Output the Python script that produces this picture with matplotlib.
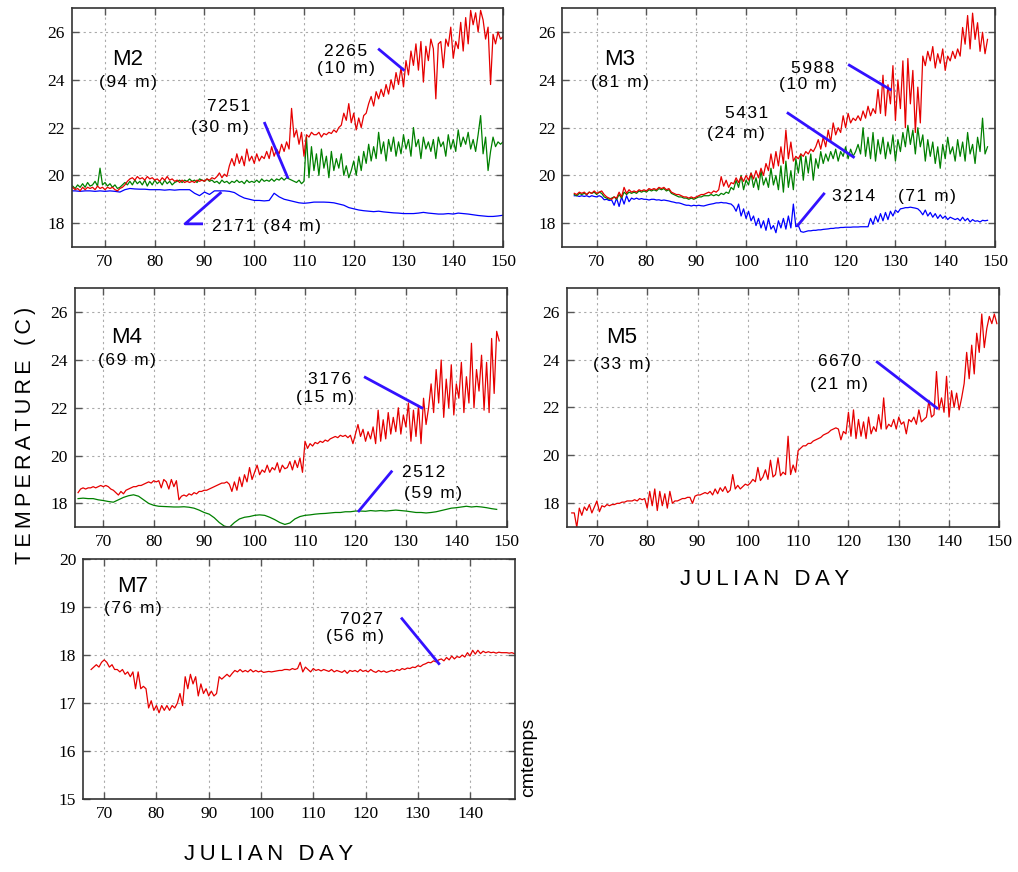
import numpy as np
import matplotlib.pyplot as plt
from matplotlib import font_manager

# mooring temperature records, half-day samples unless noted
m2_day = np.arange(63.5, 150.01, 0.5)
m2_2265 = [19.5, 19.4, 19.45, 19.35, 19.5, 19.4, 19.5, 19.45,
           19.5, 19.4, 19.55, 19.45, 19.5, 19.4, 19.5, 19.45, 19.5, 19.4,
           19.35, 19.45, 19.5, 19.6, 19.75, 19.85, 19.9, 19.8, 19.95, 19.85,
           19.9, 19.8, 19.95, 19.85, 19.9, 19.8, 19.85, 19.75, 19.9, 19.8,
           19.95, 19.8, 19.85, 19.75, 19.8, 19.7, 19.8, 19.7, 19.75, 19.7,
           19.75, 19.7, 19.8, 19.75, 19.8, 19.75, 19.85, 19.8, 19.9, 19.85,
           19.95, 20.1, 19.9, 20.05, 19.95, 20.4, 20.7, 20.4, 20.9, 20.5,
           20.8, 20.4, 21.1, 20.6, 20.8, 20.5, 20.9, 20.6, 20.8, 20.7,
           21.0, 20.7, 21.2, 20.8, 21.1, 20.9, 21.3, 21.0, 21.4, 21.1,
           22.8, 21.6, 21.9, 21.3, 21.8, 20.8, 21.7, 21.6, 21.8, 21.7,
           21.7, 21.8, 21.6, 21.75, 21.7, 21.8, 21.75, 21.9, 21.8, 22.0,
           22.1, 22.6, 22.3, 23.0, 22.2, 22.6, 21.9, 22.4, 22.0, 22.5,
           22.6, 23.0, 23.3, 22.9, 23.5, 23.2, 23.6, 23.3, 23.8, 23.4,
           24.0, 23.6, 24.3, 23.8, 24.5, 23.7, 24.8, 24.2, 25.2, 24.6,
           25.5, 24.4, 25.6, 23.9, 25.4, 24.8, 25.7, 25.3, 23.2, 25.5,
           25.6, 24.5, 25.7, 25.4, 26.2, 24.9, 25.6, 25.3, 26.4, 25.2,
           26.6, 25.5, 26.9, 26.3, 26.8, 26.0, 26.9, 26.5, 25.7, 26.2,
           23.8, 25.9, 25.5, 26.0, 25.7, 25.8]
m2_7251 = [19.55, 19.45, 19.6, 19.5, 19.65, 19.5, 19.7, 19.55,
           19.6, 19.75, 19.55, 20.3, 19.6, 19.7, 19.55, 19.65, 19.5, 19.6,
           19.45, 19.5, 19.6, 19.7, 19.6, 19.75, 19.6, 19.8, 19.65, 19.75,
           19.6, 19.8, 19.55, 19.75, 19.6, 19.8, 19.65, 19.75, 19.6, 19.8,
           19.65, 19.75, 19.6, 19.7, 19.75, 19.8, 19.7, 19.8, 19.75, 19.85,
           19.75, 19.8, 19.7, 19.85, 19.8, 19.75, 19.85, 19.75, 19.8, 19.7,
           19.75, 19.65, 19.8, 19.7, 19.75, 19.65, 19.75, 19.7, 19.8, 19.7,
           19.75, 19.65, 19.8, 19.7, 19.75, 19.7, 19.8, 19.7, 19.85, 19.75,
           19.8, 19.75, 19.85, 19.75, 19.85, 19.8, 19.9, 19.8, 19.9, 19.85,
           19.8, 19.75, 19.7, 19.8, 19.65, 19.75, 21.6, 19.9, 21.2, 20.2,
           20.9, 20.0, 21.1, 20.3, 20.8, 19.9, 21.0, 20.2, 20.7, 20.3,
           20.9, 20.0, 20.4, 19.9, 20.2, 20.6, 20.0, 20.8, 20.2, 21.0,
           20.5, 21.3, 20.6, 21.2, 20.7, 21.8, 20.9, 21.4, 20.6, 21.5,
           21.0, 21.6, 20.8, 21.4, 20.9, 21.7, 21.1, 21.5, 20.8, 22.0,
           21.2, 21.5, 20.7, 21.6, 21.1, 21.4, 21.0, 21.5, 20.7, 21.6,
           21.2, 21.4, 20.8, 21.7, 21.1, 21.5, 21.0, 21.9, 21.2, 21.6,
           21.3, 21.8, 21.1, 21.5, 21.0, 21.7, 22.5, 20.9, 21.6, 20.2,
           21.0, 21.6, 21.2, 21.4, 21.3, 21.4]
# 2171 is smooth enough for daily values
m2_day_daily = np.arange(63, 151)
m2_2171 = [19.35, 19.35, 19.33, 19.35, 19.35, 19.33, 19.35, 19.33, 19.35, 19.33,
           19.3, 19.4, 19.45, 19.43, 19.42, 19.42, 19.4, 19.4, 19.4, 19.38,
           19.4, 19.38, 19.4, 19.4, 19.4, 19.25, 19.15, 19.3, 19.2, 19.35,
           19.35, 19.35, 19.33, 19.28, 19.15, 19.05, 19.0, 18.95, 18.95, 18.93,
           18.95, 19.25, 19.1, 19.0, 18.95, 18.9, 18.85, 18.83, 18.85, 18.88,
           18.88, 18.88, 18.87, 18.85, 18.8, 18.75, 18.65, 18.6, 18.55, 18.52,
           18.5, 18.48, 18.5, 18.47, 18.45, 18.43, 18.42, 18.4, 18.4, 18.4,
           18.42, 18.45, 18.42, 18.4, 18.38, 18.38, 18.4, 18.38, 18.42, 18.4,
           18.38, 18.35, 18.32, 18.3, 18.28, 18.28, 18.3, 18.33]

m3_day = np.arange(65.5, 148.51, 0.5)
m3_5988 = [19.25, 19.2, 19.3, 19.25,
           19.3, 19.2, 19.3, 19.25, 19.35, 19.25, 19.3, 19.35, 19.2, 19.1,
           19.05, 19.0, 19.1, 19.05, 19.3, 19.1, 19.5, 19.25, 19.4, 19.3,
           19.35, 19.3, 19.4, 19.35, 19.4, 19.35, 19.45, 19.4, 19.45, 19.4,
           19.5, 19.45, 19.5, 19.4, 19.45, 19.3, 19.25, 19.2, 19.2, 19.15,
           19.1, 19.1, 19.05, 19.1, 19.05, 19.1, 19.15, 19.2, 19.2, 19.25,
           19.3, 19.25, 19.35, 19.3, 19.4, 19.95, 19.55, 19.8, 19.5, 19.7,
           19.65, 19.9, 19.7, 19.95, 19.75, 20.0, 19.8, 20.1, 19.85, 20.2,
           19.9, 20.3, 20.0, 20.5, 20.2, 20.9, 20.3, 21.0, 20.4, 21.2,
           20.5, 21.9, 20.7, 21.4, 20.6, 20.8, 20.7, 20.9, 20.8, 21.0,
           20.9, 21.1, 21.0, 21.2, 21.5, 21.1, 21.6, 21.2, 21.9, 21.4,
           22.2, 21.7, 22.0, 21.8, 22.5, 22.0, 22.6, 22.2, 22.4, 22.3,
           22.5, 22.3, 22.7, 22.4, 22.9, 22.5, 22.8, 22.6, 23.6, 22.6,
           24.2, 22.5, 23.8, 23.0, 24.6, 22.3, 24.0, 22.8, 24.8, 22.0,
           24.9, 23.0, 24.4, 21.8, 23.7, 22.2, 25.0, 24.6, 25.2, 24.8,
           25.4, 24.5, 25.1, 24.7, 25.3, 24.4, 25.0, 24.8, 25.2, 24.9,
           25.3, 25.0, 26.2, 25.5, 26.7, 25.3, 26.8, 25.7, 26.4, 25.2,
           26.0, 25.1, 25.7]
m3_5431 = [19.2, 19.15, 19.25, 19.2,
           19.25, 19.2, 19.3, 19.25, 19.3, 19.2, 19.3, 19.25, 19.1, 19.05,
           19.0, 19.05, 19.1, 19.0, 19.2, 19.05, 19.3, 19.2, 19.3, 19.25,
           19.3, 19.25, 19.35, 19.3, 19.35, 19.3, 19.4, 19.35, 19.4, 19.35,
           19.45, 19.4, 19.45, 19.35, 19.4, 19.25, 19.2, 19.15, 19.1, 19.1,
           19.05, 19.05, 19.0, 19.05, 19.0, 19.05, 19.1, 19.1, 19.15, 19.15,
           19.15, 19.2, 19.15, 19.2, 19.15, 19.25, 19.2, 19.3, 19.25, 19.5,
           19.4, 19.8, 19.5, 20.0, 19.4, 19.8, 19.6, 20.1, 19.5, 19.9,
           19.4, 20.2, 19.6, 19.9, 19.5, 20.3, 19.6, 20.0, 19.4, 20.4,
           19.3, 20.6, 19.5, 20.2, 19.4, 20.7, 20.1, 20.9, 19.8, 20.8,
           20.1, 20.9, 19.8, 20.7, 20.3, 21.0, 20.5, 20.9, 20.6, 21.0,
           20.7, 21.1, 20.6, 21.0, 20.8, 21.2, 20.7, 21.1, 20.8, 21.0,
           21.3, 20.9, 22.0, 20.8, 21.6, 20.7, 21.8, 20.6, 21.5, 20.9,
           21.6, 20.7, 21.4, 20.9, 21.7, 20.6, 21.5, 21.0, 21.8, 21.2,
           22.1, 21.3, 21.9, 20.9, 22.0, 21.2, 21.7, 20.6, 21.5, 20.8,
           21.4, 20.5, 21.2, 20.3, 21.3, 20.7, 21.6, 20.9, 21.2, 20.6,
           21.5, 20.8, 21.4, 20.6, 21.8, 20.9, 21.3, 20.5, 21.6, 21.0,
           22.4, 20.9, 21.2]
m3_3214 = [19.15, 19.15, 19.12, 19.15,
           19.12, 19.15, 19.1, 19.15, 19.12, 19.1, 19.15, 19.1, 18.98, 19.0,
           18.95, 18.97, 18.75, 19.05, 18.7, 19.1, 18.8, 19.15, 18.9, 19.05,
           19.0, 19.05, 19.0, 19.03, 19.0, 19.0, 18.97, 19.0, 19.0, 18.97,
           18.98, 18.95, 18.97, 18.95, 18.93, 18.9, 18.88, 18.85, 18.85, 18.82,
           18.78, 18.75, 18.75, 18.72, 18.75, 18.73, 18.75, 18.73, 18.72, 18.75,
           18.78, 18.8, 18.82, 18.85, 18.85, 18.87, 18.85, 18.85, 18.82, 18.8,
           18.7, 18.5, 18.8, 18.3, 18.6, 18.2, 18.5, 18.1, 18.3, 17.9,
           18.2, 17.8, 18.1, 17.7, 18.2, 17.75, 17.9, 17.6, 18.1, 17.8,
           18.2, 17.75, 18.3, 17.8, 18.8, 17.85, 17.9, 17.65, 17.62, 17.65,
           17.68, 17.68, 17.7, 17.7, 17.72, 17.72, 17.74, 17.75, 17.76, 17.78,
           17.78, 17.8, 17.8, 17.82, 17.82, 17.83, 17.83, 17.83, 17.84, 17.84,
           17.84, 17.85, 17.85, 17.85, 17.85, 18.2, 17.95, 18.3, 18.05, 18.4,
           18.1, 18.45, 18.15, 18.5, 18.3, 18.55, 18.45, 18.6, 18.62, 18.65,
           18.65, 18.67, 18.65, 18.63, 18.6, 18.5, 18.35, 18.55, 18.3, 18.45,
           18.25, 18.4, 18.2, 18.35, 18.2, 18.3, 18.15, 18.25, 18.2, 18.15,
           18.2, 18.1, 18.25, 18.1, 18.2, 18.05, 18.15, 18.08, 18.1, 18.05,
           18.12, 18.1, 18.12]

m4_day = np.arange(65.0, 148.51, 0.5)
m4_3176 = [18.45, 18.6, 18.65, 18.6, 18.65,
           18.65, 18.7, 18.65, 18.7, 18.75, 18.7, 18.75, 18.7, 18.6, 18.55,
           18.45, 18.35, 18.5, 18.4, 18.55, 18.6, 18.65, 18.7, 18.7, 18.75,
           18.75, 18.8, 18.85, 18.9, 18.85, 18.95, 18.9, 18.95, 18.65, 19.0,
           18.9, 18.6, 19.0, 18.7, 18.95, 18.15, 18.3, 18.35, 18.3, 18.4,
           18.35, 18.45, 18.4, 18.5, 18.5, 18.55, 18.55, 18.6, 18.65, 18.7,
           18.75, 18.8, 18.85, 18.85, 18.9, 18.8, 18.5, 18.9, 18.55, 19.1,
           18.7, 19.2, 18.9, 19.5, 19.0, 19.3, 19.6, 19.2, 19.4, 19.3,
           19.6, 19.3, 19.5, 19.4, 19.7, 19.3, 19.6, 19.45, 19.5, 19.75,
           19.4, 19.8, 19.5, 19.9, 19.3, 20.6, 20.3, 20.5, 20.4, 20.55,
           20.5, 20.6, 20.55, 20.65, 20.6, 20.7, 20.75, 20.8, 20.75, 20.85,
           20.8, 20.85, 20.75, 20.85, 20.5, 20.9, 21.3, 20.8, 21.1, 20.6,
           21.0, 20.7, 21.2, 20.5, 21.9, 20.6, 21.5, 20.7, 21.8, 20.9,
           21.6, 21.0, 22.0, 20.9, 21.7, 21.2, 22.2, 20.6, 21.9, 20.8,
           22.1, 20.5, 22.4, 21.3, 22.0, 23.0, 21.8, 23.6, 22.2, 24.0,
           21.6, 23.2, 22.0, 23.8, 21.7, 23.0, 22.4, 23.9, 21.8, 23.3,
           22.2, 24.7, 22.0, 23.6, 22.7, 24.2, 21.9, 23.9, 21.8, 24.9,
           22.6, 25.2, 24.8]
m4_day_daily = np.arange(65, 149)
m4_2512 = [18.2, 18.22, 18.2, 18.2, 18.15, 18.12, 18.08, 18.05, 18.15, 18.25,
           18.32, 18.36, 18.3, 18.15, 18.0, 17.92, 17.88, 17.87, 17.86, 17.85,
           17.85, 17.86, 17.84, 17.8, 17.72, 17.62, 17.55, 17.4, 17.2, 17.05,
           17.0, 17.2, 17.35, 17.42, 17.45, 17.5, 17.52, 17.5, 17.42, 17.32,
           17.2, 17.12, 17.18, 17.35, 17.45, 17.5, 17.52, 17.55, 17.57, 17.58,
           17.6, 17.62, 17.62, 17.65, 17.65, 17.68, 17.68, 17.67, 17.7, 17.68,
           17.7, 17.68, 17.7, 17.72, 17.7, 17.68, 17.65, 17.62, 17.62, 17.6,
           17.62, 17.65, 17.7, 17.75, 17.8, 17.82, 17.85, 17.88, 17.85, 17.87,
           17.85, 17.82, 17.78, 17.75]

m5_day = np.arange(65.0, 149.51, 0.5)
m5_6670 = [17.6, 17.6, 17.0, 17.8, 17.5,
           17.85, 17.7, 17.95, 17.6, 17.85, 18.1, 17.65, 17.9, 17.85, 17.95,
           17.9, 17.95, 17.95, 18.0, 18.0, 18.05, 18.05, 18.1, 18.1, 18.1,
           18.15, 18.1, 18.2, 18.15, 18.2, 17.8, 18.5, 17.9, 18.6, 17.7,
           18.5, 17.9, 18.4, 17.8, 18.5, 18.0, 18.1, 18.1, 18.15, 18.2,
           18.2, 18.25, 18.25, 18.0, 18.3, 18.35, 18.35, 18.4, 18.45, 18.4,
           18.5, 18.35, 18.6, 18.4, 18.65, 18.5, 18.7, 18.45, 18.55, 19.2,
           18.6, 18.75, 18.6, 18.7, 18.8, 18.75, 18.85, 19.0, 18.9, 19.5,
           18.95, 19.1, 19.4, 19.0, 19.8, 19.1, 19.2, 19.9, 19.15, 19.3,
           19.2, 20.8, 19.2, 19.6, 19.3, 20.2, 20.3, 20.4, 20.4, 20.5,
           20.5, 20.6, 20.65, 20.7, 20.75, 20.85, 20.9, 20.95, 21.05, 21.1,
           21.15, 21.1, 20.65, 21.0, 20.9, 21.8, 20.8, 21.9, 20.7, 21.5,
           20.8, 21.4, 20.7, 21.6, 20.9, 21.2, 21.0, 21.7, 21.1, 22.4,
           21.1, 21.3, 21.2, 21.5, 21.1, 21.6, 21.3, 21.4, 20.9, 21.5,
           21.4, 21.6, 21.3, 21.9, 21.4, 21.5, 21.6, 22.3, 21.6, 21.7,
           23.5, 21.9, 22.4, 21.8, 23.3, 21.6, 22.7, 22.0, 22.6, 21.9,
           22.4, 23.0, 24.3, 23.2, 24.6, 23.4, 25.1, 24.3, 25.9, 24.5,
           25.3, 25.8, 25.5, 25.9, 25.5]

m7_day = np.arange(67.5, 148.51, 0.5)
m7_7027 = [17.7, 17.75, 17.8, 17.75, 17.85, 17.9, 17.85, 17.75, 17.8, 17.7,
           17.7, 17.65, 17.7, 17.6, 17.65, 17.55, 17.65, 17.3, 17.65, 17.3,
           17.35, 17.3, 16.9, 17.05, 16.85, 16.95, 16.8, 16.95, 16.85, 16.95,
           16.85, 16.95, 16.9, 17.0, 17.2, 16.95, 17.55, 17.3, 17.6, 17.4,
           17.55, 17.15, 17.4, 17.2, 17.3, 17.15, 17.25, 17.15, 17.2, 17.55,
           17.5, 17.55, 17.6, 17.55, 17.62, 17.68, 17.65, 17.7, 17.65, 17.68,
           17.65, 17.7, 17.65, 17.68, 17.65, 17.67, 17.64, 17.65, 17.66, 17.65,
           17.66, 17.67, 17.68, 17.68, 17.7, 17.7, 17.69, 17.72, 17.7, 17.72,
           17.85, 17.65, 17.75, 17.7, 17.65, 17.72, 17.68, 17.7, 17.67, 17.7,
           17.68, 17.66, 17.7, 17.65, 17.68, 17.66, 17.64, 17.68, 17.62, 17.68,
           17.66, 17.68, 17.65, 17.7, 17.66, 17.68, 17.65, 17.7, 17.66, 17.64,
           17.68, 17.65, 17.67, 17.64, 17.66, 17.68, 17.66, 17.7, 17.68, 17.72,
           17.7, 17.73, 17.72, 17.75, 17.74, 17.78, 17.76, 17.8, 17.82, 17.85,
           17.84, 17.88, 17.86, 17.9, 17.92, 17.88, 17.95, 17.9, 17.98, 17.92,
           17.97, 17.95, 18.0, 17.96, 18.05, 17.98, 18.1, 18.02, 18.1, 18.03,
           18.08, 18.05, 18.07, 18.05, 18.06, 18.04, 18.06, 18.05, 18.05, 18.05,
           18.04, 18.05, 18.03]

RED = '#e60000'
GREEN = '#008000'
BLUE = '#0000ff'
LEAD = '#3311ff'
SANS = 'Liberation Sans'

# Times-like digits on the axes
installed = {f.name for f in font_manager.fontManager.ttflist}
SERIF = next((n for n in ['Liberation Serif', 'DejaVu Serif'] if n in installed),
             'serif')


def spaced(s, gap='\u2009'):
    return gap.join(s)


def style_axes(ax, xlim, ylim, xticks, yticks):
    ax.set_xlim(*xlim)
    ax.set_ylim(*ylim)
    ax.set_xticks(xticks)
    ax.set_yticks(yticks)
    ax.set_xticklabels([str(v) for v in xticks], family=SERIF, fontsize=12.5)
    ax.set_yticklabels([str(v) for v in yticks], family=SERIF, fontsize=12.5)
    ax.tick_params(direction='in', top=True, right=True, length=5,
                   width=1, color='#555555', pad=5)
    ax.grid(True, color='#aaaaaa', linestyle=(0, (2, 3)), linewidth=0.8)
    for sp in ax.spines.values():
        sp.set_color('#333333')
        sp.set_linewidth(1.2)


def mooring(ax, x, y, name, depth, dy):
    ax.text(x, y, name, fontsize=16, family=SANS, ha='center', va='center')
    ax.text(x, y - dy, spaced(depth, '\u200a'), fontsize=12.5, family=SANS,
            ha='center', va='center')


def inst(ax, x, y, lines, dy):
    for i, s in enumerate(lines):
        ax.text(x[i], y - i * dy, spaced(s, '\u200a'), fontsize=12.5,
                family=SANS, ha='center', va='center')


def leader(ax, xs, ys):
    ax.plot(xs, ys, color=LEAD, lw=2, solid_capstyle='butt', zorder=5)


fig = plt.figure(figsize=(10.18, 8.72), dpi=100)
yt = [18, 20, 22, 24, 26]
xt = list(range(70, 151, 10))

# M2
ax = fig.add_axes([0.0704, 0.7167, 0.4237, 0.2741])
style_axes(ax, (63.3, 150), (17, 27), xt, yt)
ax.plot(m2_day_daily, m2_2171, color=BLUE, lw=0.9)
ax.plot(m2_day, m2_7251, color=GREEN, lw=0.9)
ax.plot(m2_day, m2_2265, color=RED, lw=0.9)
mooring(ax, 74.6, 24.85, 'M2', '(94 m)', 0.95)
inst(ax, [118.4, 118.4], 25.2, ['2265', '(10 m)'], 0.75)
leader(ax, [124.9, 130.2], [25.3, 24.38])
inst(ax, [94.8, 93.1], 22.88, ['7251', '(30 m)'], 0.86)
leader(ax, [102.0, 106.8], [22.23, 19.87])
ax.text(91.6, 17.88, spaced('2171 (84 m)', '\u200a'), fontsize=12.5,
        family=SANS, ha='left', va='center')
leader(ax, [89.7, 86.1, 93.4], [17.97, 17.97, 19.3])

# M3
ax = fig.add_axes([0.5524, 0.7167, 0.4250, 0.2737])
style_axes(ax, (63.1, 150), (17, 27), xt, yt)
ax.plot(m3_day, m3_3214, color=BLUE, lw=0.9)
ax.plot(m3_day, m3_5431, color=GREEN, lw=0.9)
ax.plot(m3_day, m3_5988, color=RED, lw=0.9)
mooring(ax, 74.7, 24.86, 'M3', '(81 m)', 0.95)
inst(ax, [113.4, 112.5], 24.5, ['5988', '(10 m)'], 0.7)
leader(ax, [120.5, 129.2], [24.65, 23.57])
inst(ax, [100.1, 98.0], 22.6, ['5431', '(24 m)'], 0.83)
leader(ax, [108.2, 121.8], [22.64, 20.74])
ax.text(117.2, 19.1, spaced('3214', '\u200a'), fontsize=12.5, family=SANS,
        ha='left', va='center')
ax.text(130.5, 19.1, spaced('(71 m)', '\u200a'), fontsize=12.5, family=SANS,
        ha='left', va='center')
leader(ax, [115.8, 110.2], [19.27, 17.86])

# M4
ax = fig.add_axes([0.0737, 0.3953, 0.4241, 0.2741])
style_axes(ax, (64.4, 150), (17, 27), xt, yt)
ax.plot(m4_day_daily, m4_2512, color=GREEN, lw=0.9)
ax.plot(m4_day, m4_3176, color=RED, lw=0.9)
mooring(ax, 74.7, 24.93, 'M4', '(69 m)', 0.97)
inst(ax, [114.9, 114.0], 23.2, ['3176', '(15 m)'], 0.77)
leader(ax, [121.7, 133.4], [23.3, 21.97])
inst(ax, [133.5, 135.4], 19.3, ['2512', '(59 m)'], 0.88)
leader(ax, [127.3, 120.5], [19.37, 17.64])

# M5
ax = fig.add_axes([0.5567, 0.3953, 0.4250, 0.2748])
style_axes(ax, (64.0, 150), (17, 27), xt, yt)
ax.plot(m5_day, m5_6670, color=RED, lw=0.9)
mooring(ax, 74.9, 24.93, 'M5', '(33 m)', 1.15)
inst(ax, [118.3, 118.1], 23.9, ['6670', '(21 m)'], 0.95)
leader(ax, [125.5, 137.8], [23.93, 21.94])

# M7
ax = fig.add_axes([0.0818, 0.0834, 0.4241, 0.2756])
style_axes(ax, (66.0, 148.6), (15, 20), list(range(70, 141, 10)),
           [15, 16, 17, 18, 19, 20])
ax.plot(m7_day, m7_7027, color=RED, lw=0.9)
mooring(ax, 75.4, 19.42, 'M7', '(76 m)', 0.45)
inst(ax, [119.2, 117.9], 18.73, ['7027', '(56 m)'], 0.35)
leader(ax, [126.8, 134.2], [18.78, 17.8])

fig.text(0.025, 0.501, spaced('TEMPERATURE (C)'), rotation=90, fontsize=15.5,
         family=SANS, ha='center', va='center')
fig.text(0.7515, 0.336, spaced('JULIAN DAY'), fontsize=16, family=SANS,
         ha='center', va='center')
fig.text(0.2642, 0.0195, spaced('JULIAN DAY'), fontsize=16, family=SANS,
         ha='center', va='center')
fig.text(0.5197, 0.1319, 'cmtemps', rotation=90, fontsize=14, family=SANS,
         ha='center', va='center')

fig.savefig('out.png', dpi=100)
